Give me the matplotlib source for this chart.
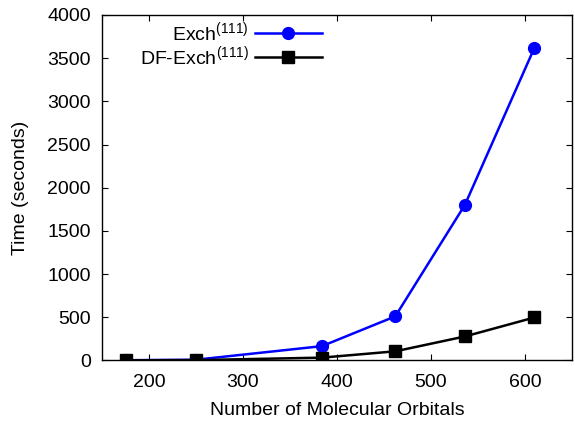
import matplotlib
matplotlib.use('Agg')
import matplotlib.pyplot as plt

# timing data: number of molecular orbitals vs wall time
orbitals = [175, 250, 384, 462, 536, 610]
exch_time = [2, 8, 165, 510, 1800, 3620]
df_exch_time = [1, 3, 32, 105, 277, 497]

x_ticks = [200, 300, 400, 500, 600]
y_ticks = [0, 500, 1000, 1500, 2000, 2500, 3000, 3500, 4000]

plt.rcParams['font.family'] = ['Liberation Sans', 'DejaVu Sans']
plt.rcParams['mathtext.fontset'] = 'custom'
plt.rcParams['mathtext.rm'] = 'Liberation Sans'
plt.rcParams['mathtext.it'] = 'Liberation Sans'

fs = 14

fig = plt.figure(figsize=(5.75, 4.22), dpi=100)
ax = fig.add_axes([0.1774, 0.146, 0.8174, 0.8185])

ax.plot(orbitals, exch_time, color='#0000ff', lw=1.8, marker='o', ms=8.5,
        label='Exch$^{(111)}$')
ax.plot(orbitals, df_exch_time, color='black', lw=1.8, marker='s', ms=8,
        label='DF-Exch$^{(111)}$')

ax.set_xlim(150, 650)
ax.set_ylim(0, 4000)
ax.set_xticks(x_ticks)
ax.set_yticks(y_ticks)
ax.tick_params(direction='in', length=4.5, width=0.8, top=True, right=True,
               labelsize=fs)
ax.tick_params(axis='x', pad=10)
ax.tick_params(axis='y', pad=8)
for s in ax.spines.values():
    s.set_linewidth(1.0)

ax.set_xlabel('Number of Molecular Orbitals', fontsize=fs, labelpad=8)
ax.set_ylabel('Time (seconds)', fontsize=fs, labelpad=13)

ax.legend(loc='upper right', bbox_to_anchor=(0.468, 0.985), frameon=False,
          markerfirst=False, fontsize=fs, handlelength=3.45,
          borderpad=0, borderaxespad=0, handletextpad=0.3, labelspacing=0.0)

fig.savefig('out.png', dpi=100)
